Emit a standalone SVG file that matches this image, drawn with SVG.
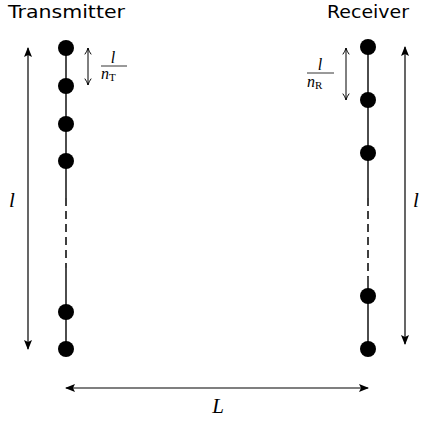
<svg xmlns="http://www.w3.org/2000/svg" width="422" height="425" viewBox="0 0 422 425">
<defs>
<style>
.title{font-family:"DejaVu Sans","Liberation Sans",sans-serif;font-size:18px;fill:#000}
.math{font-family:"Liberation Serif","DejaVu Serif",serif;font-style:italic;fill:#000}
.rm{font-family:"Liberation Serif","DejaVu Serif",serif;font-style:normal}
.dot{fill:#000}
.col{stroke:#000;stroke-width:1.4;fill:none}
.dash{stroke-dasharray:8 5;stroke-width:1.5}
.big{stroke:#000;stroke-width:1.2;fill:none}
.small{stroke:#000;stroke-width:1;fill:none}
.bar{stroke:#000;stroke-width:0.8}
</style>
<marker id="lt" viewBox="0 0 10 10" refX="9" refY="5" markerWidth="10" markerHeight="10" markerUnits="userSpaceOnUse" orient="auto-start-reverse">
<path d="M0,1 L10,5 L0,9 L2,5 Z" fill="#000"/>
</marker>
<marker id="to" viewBox="0 0 10 10" refX="9" refY="5" markerWidth="8" markerHeight="8" markerUnits="userSpaceOnUse" orient="auto-start-reverse">
<path d="M1,1 Q5,4 9,5 Q5,6 1,9" fill="none" stroke="#000" stroke-width="1.2"/>
</marker>
</defs>
<rect width="422" height="425" fill="#fff"/>

<g id="transmitter">
<text class="title" x="8" y="18" textLength="117" lengthAdjust="spacingAndGlyphs">Transmitter</text>
<line class="col" x1="66" y1="47" x2="66" y2="198"/>
<line class="col dash" x1="66" y1="198" x2="66" y2="268"/>
<line class="col" x1="66" y1="268" x2="66" y2="349"/>
<circle class="dot" cx="66" cy="48" r="8"/>
<circle class="dot" cx="66" cy="86" r="8"/>
<circle class="dot" cx="66" cy="124" r="8"/>
<circle class="dot" cx="66" cy="161" r="8"/>
<circle class="dot" cx="66" cy="312" r="8"/>
<circle class="dot" cx="66" cy="349" r="8"/>
</g>

<g id="receiver">
<text class="title" x="327" y="18" textLength="82" lengthAdjust="spacingAndGlyphs">Receiver</text>
<line class="col" x1="368" y1="47" x2="368" y2="198"/>
<line class="col dash" x1="368" y1="198" x2="368" y2="277"/>
<line class="col" x1="368" y1="277" x2="368" y2="349"/>
<circle class="dot" cx="368" cy="47" r="8"/>
<circle class="dot" cx="368" cy="100" r="8"/>
<circle class="dot" cx="368" cy="153" r="8"/>
<circle class="dot" cx="368" cy="296" r="8"/>
<circle class="dot" cx="368" cy="349" r="8"/>
</g>

<g id="connectors">
<line class="big" x1="28" y1="48" x2="28" y2="349" marker-start="url(#lt)" marker-end="url(#lt)"/>
<line class="big" x1="405" y1="47" x2="405" y2="344" marker-start="url(#lt)" marker-end="url(#lt)"/>
<line class="big" x1="66" y1="388" x2="368" y2="388" marker-start="url(#lt)" marker-end="url(#lt)"/>
<line class="small" x1="88" y1="48" x2="88" y2="85" marker-start="url(#to)" marker-end="url(#to)"/>
<line class="small" x1="346" y1="48" x2="346" y2="100" marker-start="url(#to)" marker-end="url(#to)"/>
</g>

<g id="labels">
<text class="math" x="9" y="207" font-size="21">l</text>
<text class="math" x="413" y="207" font-size="21">l</text>
<text class="math" x="218" y="413" font-size="21" text-anchor="middle">L</text>
<text class="math" x="113" y="63" font-size="16" text-anchor="middle">l</text>
<line class="bar" x1="101" y1="66" x2="127" y2="66"/>
<text class="math" x="101" y="79" font-size="16">n<tspan class="rm" font-size="11" dy="2">T</tspan></text>
<text class="math" x="320" y="70" font-size="16" text-anchor="middle">l</text>
<line class="bar" x1="307" y1="73" x2="334" y2="73"/>
<text class="math" x="307" y="87" font-size="16">n<tspan class="rm" font-size="11" dy="2">R</tspan></text>
</g>
</svg>
